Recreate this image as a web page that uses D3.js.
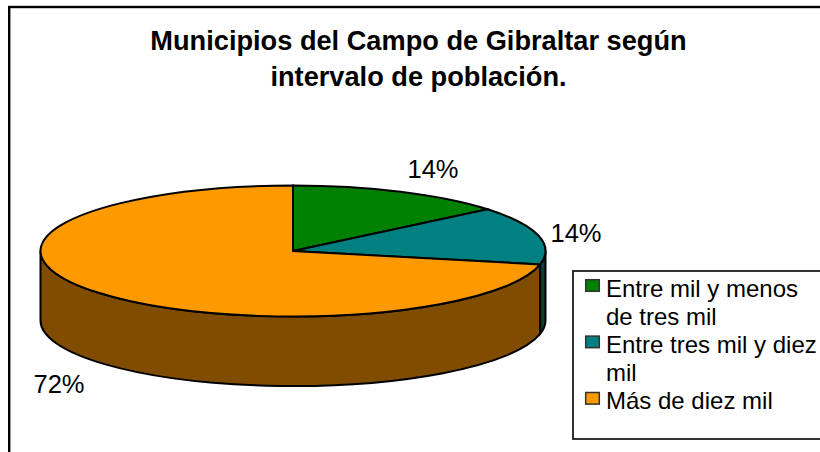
<!DOCTYPE html>
<html><head><meta charset="utf-8">
<script src="https://cdn.jsdelivr.net/npm/d3@7/dist/d3.min.js"></script>
<style>html,body{margin:0;padding:0;background:#fff}svg{display:block}text{font-family:"Liberation Sans",Arial,sans-serif;fill:#000}</style>
</head><body><svg id="c" width="820" height="452"></svg>
<script>
const titleLines = ["Municipios del Campo de Gibraltar según", "intervalo de población."];
const categories = ["Entre mil y menos de tres mil", "Entre tres mil y diez mil", "Más de diez mil"];
const legendLines = [["Entre mil y menos", "de tres mil"], ["Entre tres mil y diez", "mil"], ["Más de diez mil"]];
const values = [14, 14.3, 71.7];
const labels = ["14%", "14%", "72%"];
const topColors = ["#008000", "#008080", "#ff9900"];
const wallColors = ["#004000", "#004040", "#804d00"];

const svg = d3.select("#c");
const cx = 293, cy = 251, rx = 252.5, ry = 65.5, depth = 69.5;
const k = ry / rx;

svg.append("rect").attr("x", 9.2).attr("y", 7).attr("width", 830).attr("height", 460)
  .attr("fill", "#fff").attr("stroke", "#000").attr("stroke-width", 2.4);

svg.selectAll("text.title").data(titleLines).join("text").attr("class", "title")
  .attr("x", 418.5).attr("y", (d, i) => 49.5 + i * 36.5).attr("text-anchor", "middle")
  .attr("font-size", 27.2).attr("font-weight", "bold").text(d => d);

const pie = d3.pie().value(d => d).sort(null)(values);
const g = svg.append("g").attr("transform", `translate(${cx},${cy}) scale(1,${k})`);
const toPath = a => a - Math.PI / 2;
const dScaled = depth / k;
const edge = 2;

pie.forEach((s, i) => {
  const a0 = Math.max(s.startAngle, Math.PI / 2), a1 = Math.min(s.endAngle, 3 * Math.PI / 2);
  if (a1 <= a0) return;
  const p = d3.path();
  p.arc(0, 0, rx, toPath(a0), toPath(a1));
  p.lineTo(rx * Math.cos(toPath(a1)), rx * Math.sin(toPath(a1)) + dScaled);
  p.arc(0, dScaled, rx, toPath(a1), toPath(a0), true);
  p.closePath();
  g.append("path").attr("d", p.toString()).attr("fill", wallColors[i])
    .attr("stroke", "#000").attr("stroke-width", edge).attr("vector-effect", "non-scaling-stroke");
});

const arc = d3.arc().innerRadius(0).outerRadius(rx);
g.selectAll("path.slice").data(pie).join("path").attr("class", "slice")
  .attr("d", arc).attr("fill", (d, i) => topColors[i])
  .attr("stroke", "#000").attr("stroke-width", edge).attr("vector-effect", "non-scaling-stroke");

const labelPos = [[433, 178], [576, 242], [59, 393]];
svg.selectAll("text.pct").data(labels).join("text").attr("class", "pct")
  .attr("x", (d, i) => labelPos[i][0]).attr("y", (d, i) => labelPos[i][1]).attr("text-anchor", "middle")
  .attr("font-size", 25.5).text(d => d);

svg.append("rect").attr("x", 573).attr("y", 271).attr("width", 260).attr("height", 168)
  .attr("fill", "#fff").attr("stroke", "#000").attr("stroke-width", 1.6);
const lineH = 28.2;
let row = 0;
legendLines.forEach((lines, i) => {
  const y0 = 296.5 + row * lineH;
  svg.append("rect").attr("x", 585.7).attr("y", y0 - 16.8).attr("width", 13.6).attr("height", 11.6)
    .attr("fill", topColors[i]).attr("stroke", "#333").attr("stroke-width", 1.5);
  lines.forEach((t, j) => {
    svg.append("text").attr("x", 606).attr("y", y0 + j * lineH).attr("font-size", 24).text(t);
  });
  row += lines.length;
});
</script></body></html>
